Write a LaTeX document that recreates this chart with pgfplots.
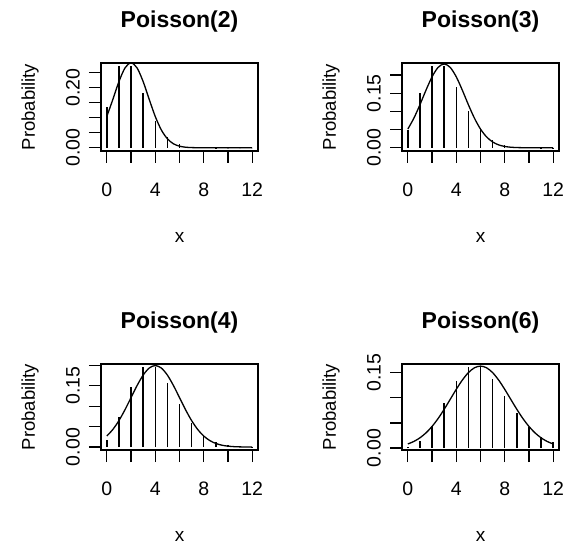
\documentclass[border=0pt]{standalone}
\usepackage{fontspec}
\setmainfont{Liberation Sans}
\usepackage{pgfplots}
\pgfplotsset{compat=1.18}
\pgfplotsset{
  rpanel/.style={
    scale only axis, width=157pt,
    anchor=south west,
    xmin=-0.48, xmax=12.48,
    axis line style={line width=1.3pt},
    every tick/.style={black, line width=1.3pt},
    tick align=outside, major tick length=12pt,
    tick pos=left,
    xtick={0,2,4,6,8,10,12},
    xticklabels={0,,4,,8,,12},
    tick label style={font=\fontsize{19.5}{19.5}\selectfont, inner sep=0pt},
    xticklabel style={anchor=north, yshift=-20pt},
    yticklabel style={rotate=90, anchor=south},
    yticklabel shift=9pt,
    xlabel={x}, ylabel={Probability},
    every axis x label/.style={at={(axis description cs:0.5,0)}, anchor=center, yshift=-86pt, font=\fontsize{19}{19}\selectfont},
    every axis y label/.style={at={(axis description cs:-0.452,0.5)}, rotate=90, anchor=center, font=\fontsize{18.5}{18.5}\selectfont},
    every axis title/.style={at={(axis description cs:0.5,1)}, anchor=center, yshift=41pt, font=\bfseries\fontsize{23}{23}\selectfont},
  },
  bars/.style={ycomb, black, line width=1.5pt, mark=none},
  dens/.style={black, line width=1.3pt, smooth, mark=none},
}
\begin{document}
\begin{tikzpicture}
\path[use as bounding box] (0,0) rectangle (565pt,544pt);
% Poisson(2)
\begin{axis}[rpanel, at={(101pt,393pt)}, height=88pt, title={Poisson(2)},
  ymin=-0.0108, ymax=0.2815, ytick={0,0.05,0.1,0.15,0.2,0.25}, yticklabels={0.00,,,,0.20,}]
\addplot[bars] coordinates {(0,0.1353) (1,0.2707) (2,0.2707) (3,0.1804) (4,0.0902) (5,0.0361) (6,0.0120) (7,0.0034) (8,0.0009) (9,0.0002) (10,0.00004) (11,0.000007) (12,0.000001)};
\addplot[dens] coordinates {(0,0.10378) (0.5,0.16073) (1,0.21970) (1.5,0.26500) (2,0.28209) (2.5,0.26500) (3,0.21970) (3.5,0.16073) (4,0.10378) (4.5,0.05913) (5,0.02973) (5.5,0.01319) (6,0.005167) (6.5,0.001786) (7,0.000544) (7.5,0.000147) (8,0.000035) (8.5,0.000008) (9,0.000001) (9.5,0) (10,0) (10.5,0) (11,0) (11.5,0) (12,0)};
\end{axis}
% Poisson(3)
\begin{axis}[rpanel, at={(402pt,393pt)}, height=88pt, title={Poisson(3)},
  ymin=-0.0089, ymax=0.2330, ytick={0,0.05,0.1,0.15,0.2}, yticklabels={0.00,,,0.15,}]
\addplot[bars] coordinates {(0,0.0498) (1,0.1494) (2,0.2240) (3,0.2240) (4,0.1680) (5,0.1008) (6,0.0504) (7,0.0216) (8,0.0081) (9,0.0027) (10,0.0008) (11,0.0002) (12,0.00006)};
\addplot[dens] coordinates {(0,0.05139) (0.5,0.08128) (1,0.11826) (1.5,0.15830) (2,0.19497) (2.5,0.22093) (3,0.23033) (3.5,0.22093) (4,0.19497) (4.5,0.15830) (5,0.11826) (5.5,0.08128) (6,0.05139) (6.5,0.02990) (7,0.016004) (7.5,0.007882) (8,0.003571) (8.5,0.001488) (9,0.000571) (9.5,0.000202) (10,0.000065) (10.5,0.00002) (11,0.000005) (11.5,0.000001) (12,0)};
\end{axis}
% Poisson(4)
\begin{axis}[rpanel, at={(101pt,94pt)}, height=86pt, title={Poisson(4)},
  ymin=-0.0072, ymax=0.2032, ytick={0,0.05,0.1,0.15,0.2}, yticklabels={0.00,,,0.15,}]
\addplot[bars] coordinates {(0,0.0183) (1,0.0733) (2,0.1465) (3,0.1954) (4,0.1954) (5,0.1563) (6,0.1042) (7,0.0595) (8,0.0298) (9,0.0132) (10,0.0053) (11,0.0019) (12,0.0006)};
\addplot[dens] coordinates {(0,0.026995) (0.5,0.04314) (1,0.06476) (1.5,0.09132) (2,0.12099) (2.5,0.15057) (3,0.17603) (3.5,0.19333) (4,0.19947) (4.5,0.19333) (5,0.17603) (5.5,0.15057) (6,0.12099) (6.5,0.09132) (7,0.06476) (7.5,0.04314) (8,0.026995) (8.5,0.015870) (9,0.008764) (9.5,0.004547) (10,0.002216) (10.5,0.001014) (11,0.000436) (11.5,0.000176) (12,0.000067)};
\end{axis}
% Poisson(6)
\begin{axis}[rpanel, at={(402pt,94pt)}, height=86pt, title={Poisson(6)},
  ymin=-0.0039, ymax=0.1670, ytick={0,0.05,0.1,0.15}, yticklabels={0.00,,,0.15}]
\addplot[bars] coordinates {(0,0.0025) (1,0.0149) (2,0.0446) (3,0.0892) (4,0.1339) (5,0.1606) (6,0.1606) (7,0.1377) (8,0.1033) (9,0.0688) (10,0.0413) (11,0.0225) (12,0.0113)};
\addplot[dens] coordinates {(0,0.008109) (0.5,0.013094) (1,0.020280) (1.5,0.030128) (2,0.042932) (2.5,0.058680) (3,0.076934) (3.5,0.096751) (4,0.116702) (4.5,0.135024) (5,0.149848) (5.5,0.159512) (6,0.16287) (6.5,0.159512) (7,0.149848) (7.5,0.135024) (8,0.116702) (8.5,0.096751) (9,0.076934) (9.5,0.058680) (10,0.042932) (10.5,0.030128) (11,0.020280) (11.5,0.013094) (12,0.008109)};
\end{axis}
\end{tikzpicture}
\end{document}
